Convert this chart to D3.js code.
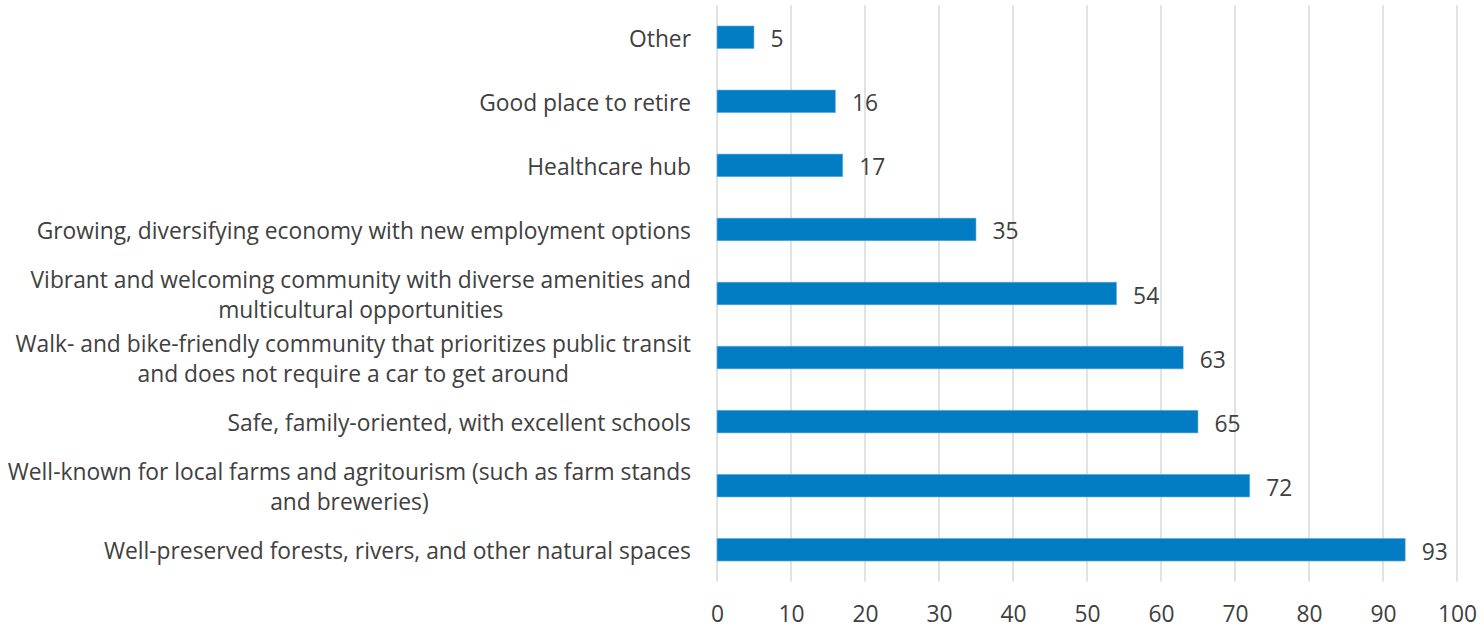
<!DOCTYPE html>
<html>
<head>
<meta charset="utf-8">
<script src="https://cdn.jsdelivr.net/npm/d3@7"></script>
<style>
  html, body { margin: 0; padding: 0; background: #ffffff; }
  svg text { font-family: "Open Sans", "Noto Sans", sans-serif; fill: #404040; }
</style>
</head>
<body>
<svg id="chart" width="1484" height="629"></svg>
<script>
// Survey responses, listed top to bottom as drawn
const categories = [
  ["Other"],
  ["Good place to retire"],
  ["Healthcare hub"],
  ["Growing, diversifying economy with new employment options"],
  ["Vibrant and welcoming community with diverse amenities and", "multicultural opportunities"],
  ["Walk- and bike-friendly community that prioritizes public transit", "and does not require a car to get around"],
  ["Safe, family-oriented, with excellent schools"],
  ["Well-known for local farms and agritourism (such as farm stands", "and breweries)"],
  ["Well-preserved forests, rivers, and other natural spaces"]
];
const values = [5, 16, 17, 35, 54, 63, 65, 72, 93];
const xTicks = [0, 10, 20, 30, 40, 50, 60, 70, 80, 90, 100];

const fontSize = 22.8;
const svg = d3.select("#chart");
const plotLeft = 717, plotRight = 1457, plotTop = 5.3, plotBottom = 581.7;

const x = d3.scaleLinear().domain([0, 100]).range([plotLeft, plotRight]);
const y = d3.scaleBand()
  .domain(d3.range(categories.length))
  .range([plotTop, plotBottom])
  .paddingInner(0.645)
  .paddingOuter(0.3225);

// vertical gridlines
svg.append("g")
  .selectAll("line")
  .data(xTicks)
  .join("line")
  .attr("x1", d => x(d)).attr("x2", d => x(d))
  .attr("y1", plotTop).attr("y2", plotBottom)
  .attr("stroke", "#d9d9d9")
  .attr("stroke-width", 1.5);

// x axis tick labels
const xAxis = d3.axisBottom(x).tickValues(xTicks).tickSize(0).tickPadding(0);
const gx = svg.append("g").attr("transform", `translate(0,${plotBottom})`).call(xAxis);
gx.select(".domain").remove();
gx.attr("font-family", null).attr("font-size", null);
gx.selectAll("text")
  .attr("y", 40.5)
  .attr("dy", 0)
  .attr("fill", null)
  .style("font-size", fontSize + "px");

// bars
svg.append("g")
  .selectAll("rect")
  .data(values)
  .join("rect")
  .attr("x", x(0))
  .attr("y", (d, i) => y(i))
  .attr("width", d => x(d) - x(0))
  .attr("height", y.bandwidth())
  .attr("fill", "#027cc2")
  .attr("stroke", "#7ab8e0")
  .attr("stroke-width", 0.6);

// value labels
svg.append("g")
  .selectAll("text")
  .data(values)
  .join("text")
  .attr("x", d => x(d) + 16.5)
  .attr("y", (d, i) => y(i) + y.bandwidth() / 2)
  .attr("dy", "0.44em")
  .style("font-size", fontSize + "px")
  .text(d => d);

// category labels, multi-line ones centred under their widest line
const labelRight = 691;
const lineGap = 30;
const catG = svg.append("g");
categories.forEach((lines, i) => {
  const cy = y(i) + y.bandwidth() / 2;
  const t = catG.append("text").style("font-size", fontSize + "px");
  lines.forEach((ln, k) => {
    t.append("tspan")
      .attr("y", cy + (k - (lines.length - 1) / 2) * lineGap)
      .attr("dy", "0.41em")
      .text(ln);
  });
  const widths = [];
  t.selectAll("tspan").each(function () { widths.push(this.getComputedTextLength()); });
  const w = d3.max(widths);
  if (lines.length === 1) {
    t.attr("text-anchor", "end");
    t.selectAll("tspan").attr("x", labelRight);
  } else {
    t.attr("text-anchor", "middle");
    t.selectAll("tspan").attr("x", labelRight - w / 2);
  }
});
</script>
</body>
</html>
